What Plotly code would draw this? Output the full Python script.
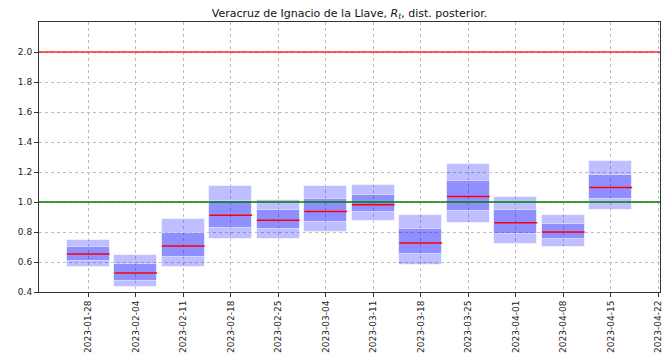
import plotly.graph_objects as go
import pandas as pd

# Weekly posterior summaries of R_t
weeks = ["2023-01-28", "2023-02-04", "2023-02-11", "2023-02-18", "2023-02-25", "2023-03-04",
         "2023-03-11", "2023-03-18", "2023-03-25", "2023-04-01", "2023-04-08", "2023-04-15"]
q05 = [0.569, 0.431, 0.569, 0.753, 0.756, 0.800, 0.873, 0.580, 0.860, 0.720, 0.700, 0.944]
q25 = [0.607, 0.473, 0.636, 0.827, 0.818, 0.867, 0.933, 0.651, 0.938, 0.789, 0.751, 1.018]
q50 = [0.653, 0.527, 0.707, 0.911, 0.878, 0.936, 0.982, 0.727, 1.036, 0.862, 0.800, 1.096]
q75 = [0.698, 0.587, 0.793, 1.010, 0.944, 1.018, 1.044, 0.818, 1.138, 0.944, 0.853, 1.180]
q95 = [0.749, 0.649, 0.889, 1.109, 1.016, 1.104, 1.111, 0.916, 1.251, 1.033, 0.911, 1.273]

tick_dates = ["2023-01-28", "2023-02-04", "2023-02-11", "2023-02-18", "2023-02-25", "2023-03-04",
              "2023-03-11", "2023-03-18", "2023-03-25", "2023-04-01", "2023-04-08", "2023-04-15",
              "2023-04-22"]
y_ticks = [0.4, 0.6, 0.8, 1.0, 1.2, 1.4, 1.6, 1.8, 2.0]

x = pd.to_datetime(weeks)
box_days = 6.3
box_ms = box_days * 24 * 3600 * 1000
fill = "rgba(0,0,255,0.25)"
edge = "rgba(255,255,255,0.5)"

fig = go.Figure()
fig.add_trace(go.Bar(x=x, base=q05, y=[h - l for h, l in zip(q95, q05)], width=box_ms,
                     marker=dict(color=fill, line=dict(color=edge, width=1)), hoverinfo="skip"))
fig.add_trace(go.Bar(x=x, base=q25, y=[h - l for h, l in zip(q75, q25)], width=box_ms,
                     marker=dict(color=fill, line=dict(color=edge, width=1)), hoverinfo="skip"))

# median segments across each box
half = pd.Timedelta(days=box_days / 2)
mx, my = [], []
for d, m in zip(x, q50):
    mx += [d - half, d + half, None]
    my += [m, m, None]
fig.add_trace(go.Scatter(x=mx, y=my, mode="lines", line=dict(color="red", width=1.5),
                         hoverinfo="skip"))

fig.add_hline(y=2.0, line=dict(color="rgba(255,0,0,0.85)", width=1.5))
fig.add_hline(y=1.0, line=dict(color="rgba(0,128,0,0.75)", width=2))

grid = dict(showgrid=True, gridcolor="#bdbdbd", griddash="dot", gridwidth=0.8)
frame = dict(showline=True, linecolor="#333", linewidth=1, mirror=True, zeroline=False)

fig.update_layout(
    width=672, height=358,
    margin=dict(l=39, r=12, t=22, b=66),
    paper_bgcolor="white", plot_bgcolor="white",
    barmode="overlay", bargap=0, showlegend=False,
    font=dict(family="DejaVu Sans", size=9, color="#222"),
    title=dict(text="Veracruz de Ignacio de la Llave, <i>R<sub>t</sub></i>, dist. posterior.",
               x=0.5, xref="paper", xanchor="center", y=1 - 13 / 358, yanchor="middle",
               font=dict(family="DejaVu Sans", size=11, color="#111")),
)
fig.update_xaxes(
    type="date", automargin=False,
    range=[pd.Timestamp("2023-01-28") - pd.Timedelta(hours=174), pd.Timestamp("2023-04-22 06:00")],
    tickmode="array", tickvals=pd.to_datetime(tick_dates), ticktext=tick_dates, tickangle=-90,
    ticks="outside", ticklen=4, tickcolor="#333", **grid, **frame,
)
fig.update_yaxes(
    range=[0.4, 2.2], tickmode="array", tickvals=y_ticks, automargin=False,
    ticktext=[f"{v:.1f}" for v in y_ticks],
    ticks="outside", ticklen=4, tickcolor="#333", **grid, **frame,
)

fig.write_html("out.html")
